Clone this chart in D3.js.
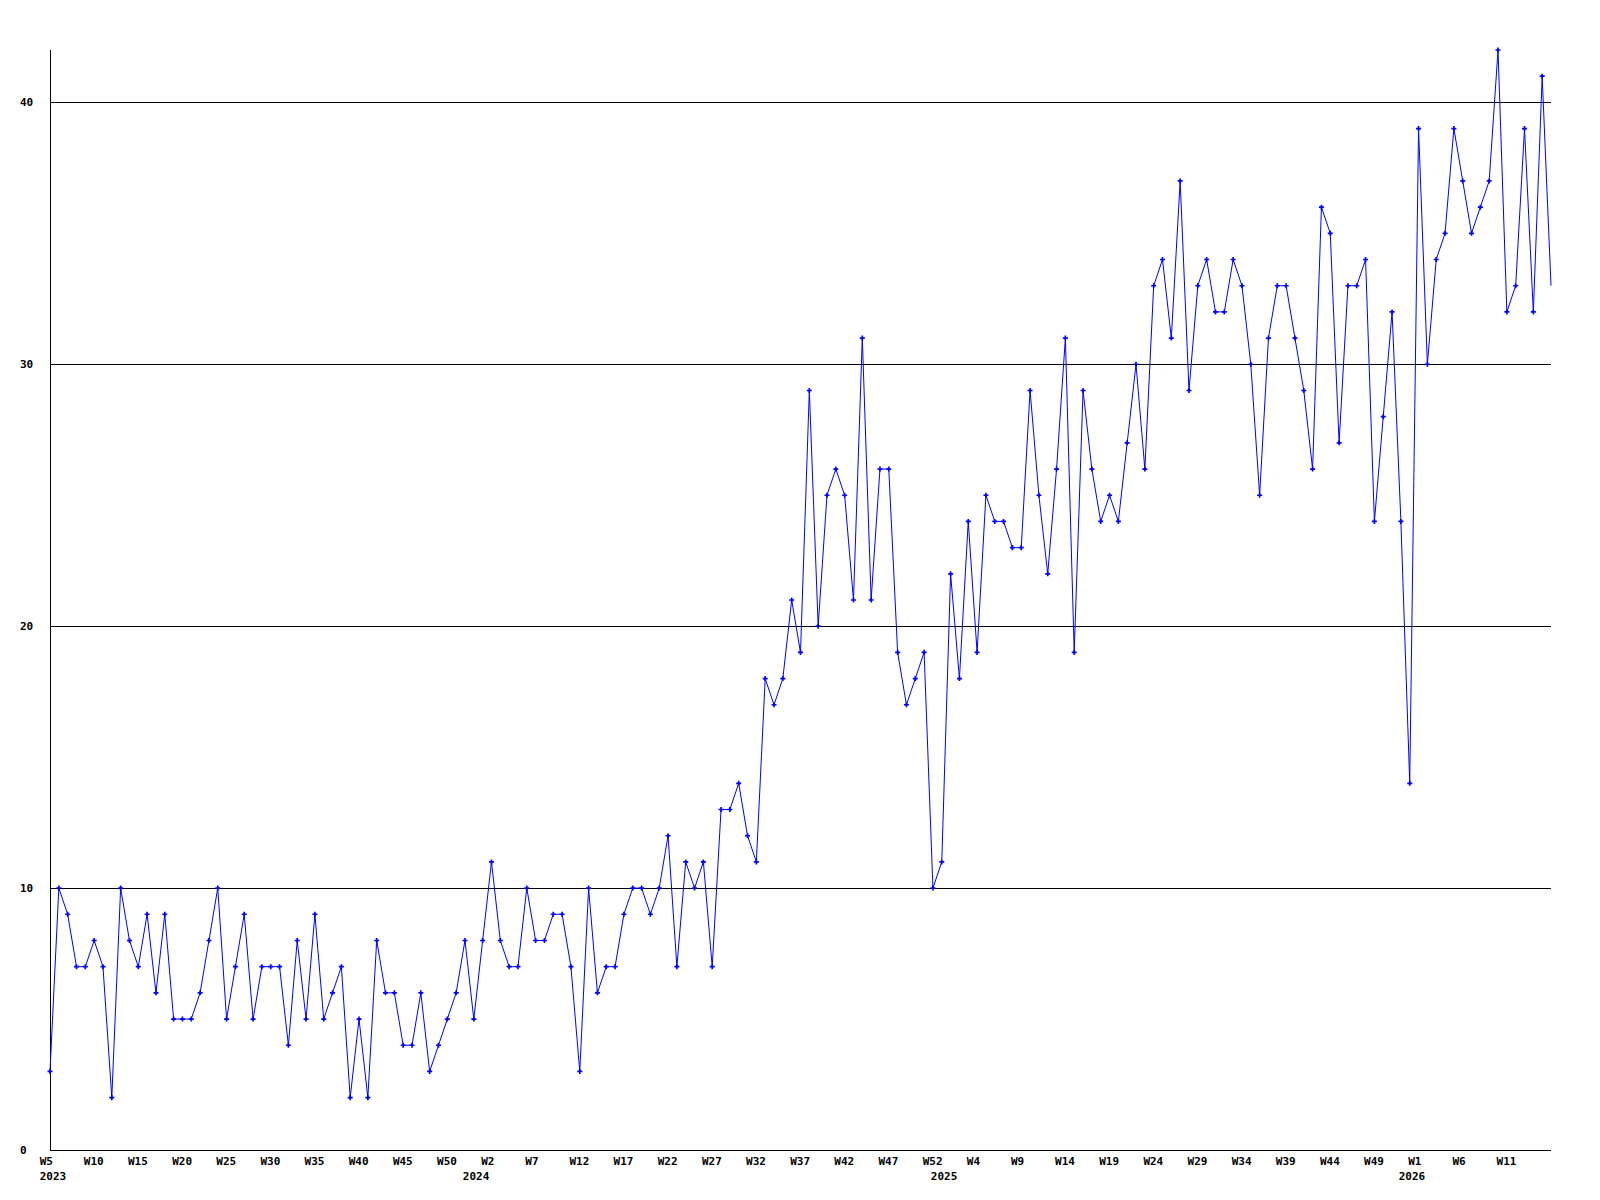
<!DOCTYPE html>
<html>
<head>
<meta charset="utf-8">
<script src="https://cdn.jsdelivr.net/npm/d3@7"></script>
<style>
  body { margin: 0; background: #fff; }
  svg { display: block; }
  text { font-family: "DejaVu Sans Mono", monospace; font-weight: bold; font-size: 11px; fill: #000; }
</style>
</head>
<body>
<div id="chart"></div>
<script>
// Weekly counts, one array per year (first week of 2023 shown is W5)
const startWeek2023 = 5;
const values2023 = [3,10,9,7,7,8,7,2,10,8,7,9,6,9,5,5,5,6,8,10,5,7,9,5,7,7,7,4,8,5,9,5,6,7,2,5,2,8,6,6,4,4,6,3,4,5,6,8,5];
const values2024 = [8,11,8,7,7,10,8,8,9,9,7,3,10,6,7,7,9,10,10,9,10,12,7,11,10,11,7,13,13,14,12,11,18,17,18,21,19,29,20,25,26,25,21,31,21,26,26,19,17,18,19,10,11];
const values2025 = [22,18,24,19,25,24,24,23,23,29,25,22,26,31,19,29,26,24,25,24,27,30,26,33,34,31,37,29,33,34,32,32,34,33,30,25,31,33,33,31,29,26,36,35,27,33,33,34,24,28,32,24,14];
const values2026 = [39,30,34,35,39,37,35,36,37,42,32,33,39,32,41,33];
const years = ["2023", "2024", "2025", "2026"];
const yTicks = [0, 10, 20, 30, 40];
const labelEvery = 5;

// Build the flat week series
const series = [];
[values2023, values2024, values2025, values2026].forEach((vals, yi) => {
    const first = yi === 0 ? startWeek2023 : 1;
    vals.forEach((v, i) => {
        series.push({ year: years[yi], week: first + i, value: v, key: years[yi] + "-W" + (first + i) });
    });
});

const width = 1600;
const height = 1200;
const margin = { left: 50, right: 49, top: 50, bottom: 50 };

const svg = d3.select("#chart")
    .append("svg")
    .attr("width", width)
    .attr("height", height);

const x = d3.scalePoint()
    .domain(series.map(d => d.key))
    .range([margin.left, width - margin.right]);

const y = d3.scaleLinear()
    .domain([0, 42])
    .range([height - margin.bottom, margin.top]);

// Horizontal gridlines
svg.append("g")
    .selectAll("line")
    .data(yTicks)
    .enter()
    .append("line")
    .attr("x1", margin.left)
    .attr("x2", width - margin.right)
    .attr("y1", d => Math.round(y(d)) + 0.5)
    .attr("y2", d => Math.round(y(d)) + 0.5)
    .attr("stroke", "#000")
    .attr("stroke-width", 1);

// Y labels
svg.append("g")
    .selectAll("text")
    .data(yTicks)
    .enter()
    .append("text")
    .attr("x", 20)
    .attr("y", d => y(d))
    .attr("dy", "0.35em")
    .text(d => d);

// Left axis
svg.append("line")
    .attr("x1", margin.left + 0.5)
    .attr("x2", margin.left + 0.5)
    .attr("y1", margin.top)
    .attr("y2", height - margin.bottom)
    .attr("stroke", "#000");

// Week labels (every 5th point, the unfinished last week has none)
const labelled = series.filter((d, i) => i % labelEvery === 0 && i < series.length - 1);
svg.append("g")
    .selectAll("text")
    .data(labelled)
    .enter()
    .append("text")
    .attr("x", d => x(d.key) - 10.3)
    .attr("y", height - margin.bottom + 15)
    .text(d => "W" + d.week);

// Year labels under the first week of each year
const firstOfYear = years.map(yr => series.find(d => d.year === yr));
svg.append("g")
    .selectAll("text")
    .data(firstOfYear)
    .enter()
    .append("text")
    .attr("x", d => Math.max(x(d.key) - 19.8, margin.left - 10.3))
    .attr("y", height - margin.bottom + 30)
    .text(d => d.year);

// Data line
const line = d3.line()
    .x(d => x(d.key))
    .y(d => y(d.value));

svg.append("path")
    .datum(series)
    .attr("fill", "none")
    .attr("stroke", "#0000ff")
    .attr("stroke-width", 1)
    .attr("d", line);

// Cross markers (none on the final point)
svg.append("g")
    .selectAll("path")
    .data(series.slice(0, -1))
    .enter()
    .append("path")
    .attr("transform", d => `translate(${x(d.key)},${y(d.value)})`)
    .attr("d", d3.symbol().type(d3.symbolCross).size(14))
    .attr("fill", "#0000ff");
</script>
</body>
</html>
